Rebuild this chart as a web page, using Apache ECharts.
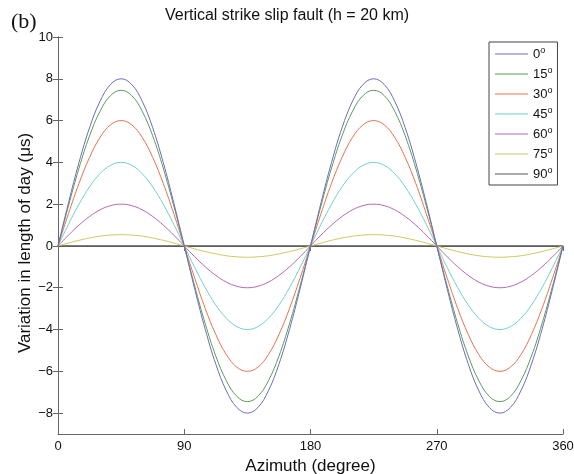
<!DOCTYPE html>
<html>
<head>
<meta charset="utf-8">
<script src="https://cdn.jsdelivr.net/npm/echarts@6/dist/echarts.min.js"></script>
<style>
  html, body { margin: 0; padding: 0; background: #fff; }
  #chart { width: 574px; height: 474px; }
</style>
</head>
<body>
<div id="chart"></div>
<script>
// azimuth samples (degree), every 7.5
const azimuth = [0, 7.5, 15, 22.5, 30, 37.5, 45, 52.5, 60, 67.5, 75, 82.5, 90,
  97.5, 105, 112.5, 120, 127.5, 135, 142.5, 150, 157.5, 165, 172.5, 180,
  187.5, 195, 202.5, 210, 217.5, 225, 232.5, 240, 247.5, 255, 262.5, 270,
  277.5, 285, 292.5, 300, 307.5, 315, 322.5, 330, 337.5, 345, 352.5, 360];

// variation in length of day (µs), one list per dip angle
const dip0 = [0, 2.07, 4.0, 5.66, 6.93, 7.73, 8.0, 7.73, 6.93, 5.66, 4.0, 2.07, 0,
  -2.07, -4.0, -5.66, -6.93, -7.73, -8.0, -7.73, -6.93, -5.66, -4.0, -2.07, 0,
  2.07, 4.0, 5.66, 6.93, 7.73, 8.0, 7.73, 6.93, 5.66, 4.0, 2.07, 0,
  -2.07, -4.0, -5.66, -6.93, -7.73, -8.0, -7.73, -6.93, -5.66, -4.0, -2.07, 0];
const dip15 = [0, 1.93, 3.73, 5.27, 6.45, 7.2, 7.45, 7.2, 6.45, 5.27, 3.73, 1.93, 0,
  -1.93, -3.73, -5.27, -6.45, -7.2, -7.45, -7.2, -6.45, -5.27, -3.73, -1.93, 0,
  1.93, 3.73, 5.27, 6.45, 7.2, 7.45, 7.2, 6.45, 5.27, 3.73, 1.93, 0,
  -1.93, -3.73, -5.27, -6.45, -7.2, -7.45, -7.2, -6.45, -5.27, -3.73, -1.93, 0];
const dip30 = [0, 1.55, 3.0, 4.24, 5.2, 5.8, 6.0, 5.8, 5.2, 4.24, 3.0, 1.55, 0,
  -1.55, -3.0, -4.24, -5.2, -5.8, -6.0, -5.8, -5.2, -4.24, -3.0, -1.55, 0,
  1.55, 3.0, 4.24, 5.2, 5.8, 6.0, 5.8, 5.2, 4.24, 3.0, 1.55, 0,
  -1.55, -3.0, -4.24, -5.2, -5.8, -6.0, -5.8, -5.2, -4.24, -3.0, -1.55, 0];
const dip45 = [0, 1.04, 2.0, 2.83, 3.46, 3.86, 4.0, 3.86, 3.46, 2.83, 2.0, 1.04, 0,
  -1.04, -2.0, -2.83, -3.46, -3.86, -4.0, -3.86, -3.46, -2.83, -2.0, -1.04, 0,
  1.04, 2.0, 2.83, 3.46, 3.86, 4.0, 3.86, 3.46, 2.83, 2.0, 1.04, 0,
  -1.04, -2.0, -2.83, -3.46, -3.86, -4.0, -3.86, -3.46, -2.83, -2.0, -1.04, 0];
const dip60 = [0, 0.52, 1.0, 1.41, 1.73, 1.93, 2.0, 1.93, 1.73, 1.41, 1.0, 0.52, 0,
  -0.52, -1.0, -1.41, -1.73, -1.93, -2.0, -1.93, -1.73, -1.41, -1.0, -0.52, 0,
  0.52, 1.0, 1.41, 1.73, 1.93, 2.0, 1.93, 1.73, 1.41, 1.0, 0.52, 0,
  -0.52, -1.0, -1.41, -1.73, -1.93, -2.0, -1.93, -1.73, -1.41, -1.0, -0.52, 0];
const dip75 = [0, 0.14, 0.27, 0.38, 0.47, 0.52, 0.54, 0.52, 0.47, 0.38, 0.27, 0.14, 0,
  -0.14, -0.27, -0.38, -0.47, -0.52, -0.54, -0.52, -0.47, -0.38, -0.27, -0.14, 0,
  0.14, 0.27, 0.38, 0.47, 0.52, 0.54, 0.52, 0.47, 0.38, 0.27, 0.14, 0,
  -0.14, -0.27, -0.38, -0.47, -0.52, -0.54, -0.52, -0.47, -0.38, -0.27, -0.14, 0];
const dip90 = [0, 0, 0, 0, 0, 0, 0, 0, 0, 0, 0, 0, 0,
  0, 0, 0, 0, 0, 0, 0, 0, 0, 0, 0, 0,
  0, 0, 0, 0, 0, 0, 0, 0, 0, 0, 0, 0,
  0, 0, 0, 0, 0, 0, 0, 0, 0, 0, 0, 0];

const dipNames = ['0', '15', '30', '45', '60', '75', '90'];
const dipValues = [dip0, dip15, dip30, dip45, dip60, dip75, dip90];
const colors = ['#6b6bbf', '#5c9a5c', '#e8704f', '#6fcfcf', '#b366b3', '#c9c95f', '#555555'];

const xTicks = [0, 90, 180, 270, 360];
const yTicks = [-8, -6, -4, -2, 0, 2, 4, 6, 8, 10];

const font = 'Liberation Sans, Arial, sans-serif';
const axisColor = '#666';

const chart = echarts.init(document.getElementById('chart'));

const series = dipNames.map((name, i) => ({
  name: name,
  type: 'line',
  smooth: 0.4,
  symbol: 'none',
  data: azimuth.map((a, j) => [a, dipValues[i][j]]),
  lineStyle: { color: colors[i], width: i === 6 ? 1.3 : 1 },
  itemStyle: { color: colors[i] },
  z: 10 - i
}));

// box axes (top / right) only carry inward ticks
const boxAxis = (ticks) => ({
  show: true,
  axisLine: { show: true, lineStyle: { color: axisColor, width: 1 } },
  axisTick: { show: true, inside: true, length: 5, customValues: ticks, lineStyle: { color: axisColor } },
  axisLabel: { show: false },
  splitLine: { show: false }
});

const option = {
  animation: false,
  color: colors,
  title: {
    text: 'Vertical strike slip fault (h = 20 km)',
    left: 'center',
    top: 8,
    padding: 0,
    textStyle: { fontFamily: font, fontSize: 16, fontWeight: 'normal', color: '#111' }
  },
  graphic: [{
    type: 'text',
    left: 11,
    top: 11,
    style: { text: '(b)', fontFamily: 'Liberation Serif, Times New Roman, serif', fontSize: 22, fill: '#111' }
  }, {
    type: 'text',
    x: 25,
    y: 243,
    rotation: Math.PI / 2,
    style: {
      text: 'Variation in length of day (μs)',
      fontFamily: font,
      fontSize: 17,
      fill: '#111',
      align: 'center',
      verticalAlign: 'middle'
    }
  }],
  legend: {
    orient: 'vertical',
    left: 489,
    top: 42,
    padding: [4, 5, 3, 6],
    icon: 'rect',
    itemWidth: 33,
    itemHeight: 1,
    itemGap: 4,
    itemTextGap: 4,
    backgroundColor: '#fff',
    borderColor: '#444',
    borderWidth: 1,
    borderRadius: 0,
    formatter: (name) => '{n|' + name + '}{s|o}',
    textStyle: {
      color: '#111',
      fontFamily: font,
      rich: {
        n: { fontSize: 13, lineHeight: 14, fontFamily: font, color: '#111' },
        s: { fontSize: 9, lineHeight: 14, fontFamily: font, color: '#111', padding: [0, 0, 7, 0] }
      }
    },
    data: dipNames
  },
  grid: { left: 58, right: 11, top: 37, bottom: 40, containLabel: false, outerBoundsMode: 'none' },
  xAxis: [{
    type: 'value',
    min: 0,
    max: 360,
    name: 'Azimuth (degree)',
    nameLocation: 'middle',
    nameGap: 22,
    nameTextStyle: { fontFamily: font, fontSize: 17, color: '#111', verticalAlign: 'top' },
    axisLine: { show: true, onZero: false, lineStyle: { color: axisColor, width: 1 } },
    axisTick: { show: true, inside: true, length: 5, customValues: xTicks, lineStyle: { color: axisColor } },
    axisLabel: { customValues: xTicks, fontFamily: font, fontSize: 13, color: '#111', margin: 6 },
    splitLine: { show: false }
  }, Object.assign({ type: 'value', position: 'top', min: 0, max: 360 }, boxAxis(xTicks))],
  yAxis: [{
    type: 'value',
    min: -9,
    max: 10,
    axisLine: { show: true, onZero: false, lineStyle: { color: axisColor, width: 1 } },
    axisTick: { show: true, inside: true, length: 5, customValues: yTicks, lineStyle: { color: axisColor } },
    axisLabel: {
      customValues: yTicks,
      fontFamily: font,
      fontSize: 13,
      color: '#111',
      margin: 5,
      formatter: (v) => String(v).replace('-', '\u2212')
    },
    splitLine: { show: false }
  }, Object.assign({ type: 'value', position: 'right', min: -9, max: 10 }, boxAxis(yTicks))],
  series: series
};

chart.setOption(option);
</script>
</body>
</html>
